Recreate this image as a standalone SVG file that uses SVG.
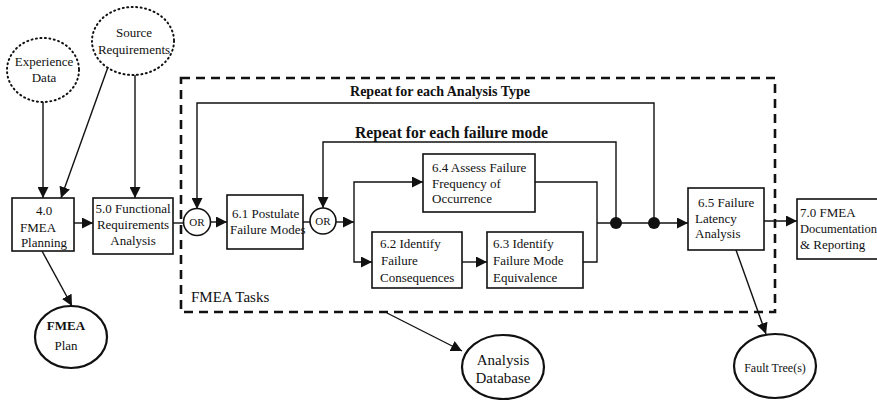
<svg xmlns="http://www.w3.org/2000/svg" width="877" height="400" viewBox="0 0 877 400" font-family="'Liberation Serif', 'Times New Roman', Times, serif">
<style>
text{font-family:'Liberation Serif','Times New Roman',Times,serif;font-size:13px;fill:#111}
.box{fill:#fff;stroke:#111;stroke-width:1.6}
.dot{fill:none;stroke:#111;stroke-width:2;stroke-dasharray:1 3.5;stroke-linecap:round}
.ell{fill:#fff;stroke:#111;stroke-width:2.2}
.ln{fill:none;stroke:#111;stroke-width:1.4}
.arr{fill:none;stroke:#111;stroke-width:1.4;marker-end:url(#ah)}
.b{font-weight:bold}
.mid{text-anchor:middle}
</style>
<defs>
<marker id="ah" viewBox="0 0 10 10" refX="10" refY="5" markerWidth="11" markerHeight="11" markerUnits="userSpaceOnUse" orient="auto"><path d="M0,0 L10,5 L0,10 z" fill="#111"/></marker>
</defs>

<rect id="fmea-tasks" x="181" y="78" width="594" height="234" fill="none" stroke="#111" stroke-width="2.6" stroke-dasharray="9 6"/>
<text x="191" y="302" style="font-size:15px">FMEA Tasks</text>

<g id="connectors">
<line class="arr" x1="43" y1="102" x2="43" y2="198"/>
<line class="arr" x1="108" y1="67" x2="61" y2="198"/>
<line class="arr" x1="135" y1="75" x2="135" y2="198"/>
<line class="arr" x1="74" y1="223" x2="93" y2="223"/>
<line class="arr" x1="42" y1="251" x2="72" y2="306"/>
<line class="ln" x1="173" y1="223" x2="184" y2="223"/>
<polyline class="arr" points="654,223 654,103 197,103 197,209"/>
<line class="arr" x1="211" y1="222" x2="227" y2="222"/>
<line class="ln" x1="303" y1="222" x2="310" y2="222"/>
<polyline class="arr" points="616,223 616,142 323,142 323,208"/>
<line class="arr" x1="336" y1="222" x2="354" y2="222"/>
<polyline class="arr" points="354,222 354,182 423,182"/>
<polyline class="arr" points="354,222 354,262 372,262"/>
<line class="arr" x1="462" y1="262" x2="487" y2="262"/>
<polyline class="ln" points="535,182 597,182 597,262 583,262"/>
<line class="arr" x1="597" y1="223" x2="688" y2="223"/>
<circle cx="616" cy="223" r="6" fill="#111"/>
<circle cx="654" cy="223" r="6" fill="#111"/>
<line class="arr" x1="764" y1="221" x2="797" y2="221"/>
<line class="arr" x1="736" y1="250" x2="766" y2="334"/>
<line class="arr" x1="387" y1="313" x2="462" y2="351"/>
</g>
<text class="b" x="350" y="96" style="font-size:14px" textLength="180" lengthAdjust="spacingAndGlyphs">Repeat for each Analysis Type</text>
<text class="b" x="355" y="138" style="font-size:17px" textLength="193" lengthAdjust="spacingAndGlyphs">Repeat for each failure mode</text>

<g id="experience-data">
<ellipse class="dot" cx="43" cy="70" rx="36" ry="32"/>
<text class="mid" x="44" y="66">Experience</text>
<text class="mid" x="44" y="82">Data</text>
</g>
<g id="source-requirements">
<ellipse class="dot" cx="133" cy="41" rx="41" ry="34"/>
<text class="mid" x="134" y="37">Source</text>
<text class="mid" x="134" y="54">Requirements</text>
</g>
<g id="n40">
<rect class="box" x="12" y="198" width="62" height="53"/>
<text class="mid" x="44" y="215">4.0</text>
<text class="mid" x="38" y="232">FMEA</text>
<text class="mid" x="44" y="247">Planning</text>
</g>
<g id="n50">
<rect class="box" x="93" y="198" width="80" height="56"/>
<text class="mid" x="133" y="213">5.0 Functional</text>
<text class="mid" x="133" y="229">Requirements</text>
<text class="mid" x="133" y="245">Analysis</text>
</g>
<g id="fmea-plan">
<ellipse class="ell" cx="71" cy="337" rx="36" ry="31"/>
<text class="mid" x="66" y="330" style="font-weight:600">FMEA</text>
<text class="mid" x="66" y="350">Plan</text>
</g>
<g id="or1">
<circle class="box" cx="197" cy="222" r="13.5"/>
<text class="mid" x="197" y="226" style="font-size:11px">OR</text>
</g>
<g id="n61">
<rect class="box" x="227" y="195" width="76" height="54"/>
<text x="232" y="218">6.1  Postulate</text>
<text x="230" y="234">Failure Modes</text>
</g>
<g id="or2">
<circle class="box" cx="323" cy="221" r="13"/>
<text class="mid" x="323" y="225" style="font-size:11px">OR</text>
</g>
<g id="n64">
<rect class="box" x="423" y="154" width="112" height="58"/>
<text x="432" y="172">6.4 Assess Failure</text>
<text x="432" y="188">Frequency of</text>
<text x="432" y="203">Occurrence</text>
</g>
<g id="n62">
<rect class="box" x="372" y="232" width="90" height="56"/>
<text x="380" y="248">6.2  Identify</text>
<text x="381" y="265">Failure</text>
<text x="380" y="282">Consequences</text>
</g>
<g id="n63">
<rect class="box" x="487" y="232" width="96" height="56"/>
<text x="493" y="248">6.3  Identify</text>
<text x="493" y="265">Failure Mode</text>
<text x="493" y="282">Equivalence</text>
</g>
<g id="n65">
<rect class="box" x="688" y="188" width="76" height="62"/>
<text x="698" y="207">6.5 Failure</text>
<text x="695" y="223">Latency</text>
<text x="695" y="238">Analysis</text>
</g>
<g id="n70">
<rect class="box" x="797" y="199" width="84" height="60"/>
<text x="800" y="217">7.0 FMEA</text>
<text x="800" y="233" style="font-size:12.5px">Documentation</text>
<text x="800" y="249">&amp; Reporting</text>
</g>
<g id="fault-trees">
<ellipse class="ell" cx="775" cy="366" rx="41" ry="32"/>
<text class="mid" x="775" y="372" style="font-size:12px">Fault Tree(s)</text>
</g>
<g id="analysis-database">
<ellipse class="ell" cx="503" cy="367" rx="41" ry="32"/>
<text class="mid" x="503" y="365" style="font-size:15px">Analysis</text>
<text class="mid" x="503" y="383" style="font-size:15px">Database</text>
</g>
</svg>
